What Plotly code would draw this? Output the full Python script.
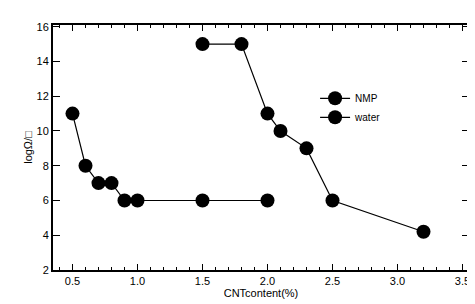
import plotly.graph_objects as go

nmp_x = [1.5, 1.8, 2.0, 2.1, 2.3, 2.5, 3.2]
nmp_y = [15, 15, 11, 10, 9, 6, 4.2]
water_x = [0.5, 0.6, 0.7, 0.8, 0.9, 1.0, 1.5, 2.0]
water_y = [11, 8, 7, 7, 6, 6, 6, 6]
x_ticks = [0.5, 1.0, 1.5, 2.0, 2.5, 3.0, 3.5]
x_tick_labels = ["0.5", "1.0", "1.5", "2.0", "2.5", "3.0", "3.5"]
y_ticks = [2, 4, 6, 8, 10, 12, 14, 16]

fig = go.Figure()
for name, xs, ys in [("NMP", nmp_x, nmp_y), ("water", water_x, water_y)]:
    fig.add_trace(go.Scatter(
        x=xs, y=ys, name=name, mode="lines+markers",
        line=dict(color="black", width=1.2),
        marker=dict(color="black", size=14),
    ))

font = dict(family="Liberation Sans, Arial, sans-serif", color="black", size=11)
fig.update_layout(
    width=475, height=304,
    margin=dict(l=45, r=14, t=17, b=42),
    paper_bgcolor="white", plot_bgcolor="white",
    font=font,
    showlegend=True,
    legend=dict(x=0.63, y=0.76, xanchor="left", yanchor="top",
                bgcolor="rgba(0,0,0,0)", font=dict(size=10, color="black"),
                tracegroupgap=0, itemwidth=30),
)
fig.update_xaxes(
    range=[0.35, 3.55], tickvals=x_ticks, ticktext=x_tick_labels,
    showline=True, linecolor="black", linewidth=2, mirror="ticks",
    ticks="inside", ticklen=6, tickcolor="black",
    minor=dict(dtick=0.1, ticks="inside", ticklen=3, tickcolor="black"),
    showgrid=False, zeroline=False,
    title=dict(text="CNTcontent(%)", standoff=0, font=dict(size=11)),
)
fig.update_yaxes(
    range=[2, 16.1], tickvals=y_ticks,
    showline=True, linecolor="black", linewidth=2, mirror="ticks",
    ticks="inside", ticklen=7, tickcolor="black",
    showgrid=False, zeroline=False,
    title=dict(text="logΩ/□", standoff=2, font=dict(size=11)),
)
fig.write_html("out.html")
